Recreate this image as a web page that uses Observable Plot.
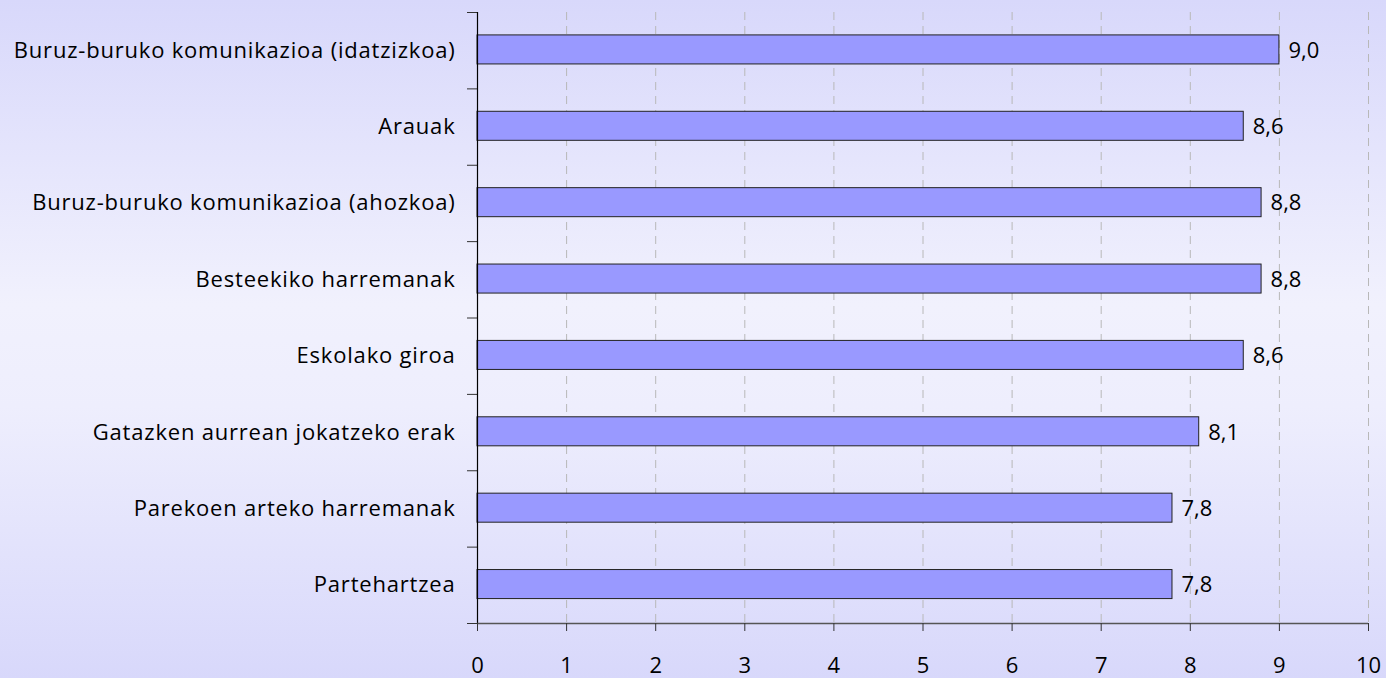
<!DOCTYPE html>
<html><head><meta charset="utf-8">
<script src="https://cdn.jsdelivr.net/npm/d3@7"></script>
<script src="https://cdn.jsdelivr.net/npm/@observablehq/plot@0.6"></script>
<style>
html,body{margin:0;padding:0;}
body{width:1386px;height:678px;overflow:hidden;background:linear-gradient(to bottom,#d8d8fb 0%,#f1f1fd 45%,#eeeefd 60%,#d8d8fb 100%);}
svg{background:transparent !important;}
g.cat-labels text{letter-spacing:0.8px;}
</style>
</head><body>
<div id="chart"></div>
<script>
const categories = [
  "Buruz-buruko komunikazioa (idatzizkoa)",
  "Arauak",
  "Buruz-buruko komunikazioa (ahozkoa)",
  "Besteekiko harremanak",
  "Eskolako giroa",
  "Gatazken aurrean jokatzeko erak",
  "Parekoen arteko harremanak",
  "Partehartzea"
];
const values = [9.0, 8.6, 8.8, 8.8, 8.6, 8.1, 7.8, 7.8];
const xTicks = [0,1,2,3,4,5,6,7,8,9,10];

const data = categories.map((c, i) => ({cat: c, i, v: values[i]}));
const boundaries = d3.range(categories.length + 1);
const fmt = v => v.toFixed(1).replace(".", ",");

const chart = Plot.plot({
  width: 1386,
  height: 678,
  marginLeft: 477,
  marginRight: 18,
  marginTop: 12,
  marginBottom: 55,
  style: {fontFamily: "'Open Sans', sans-serif", fontSize: "22px", color: "#000", background: "transparent"},
  x: {domain: [0, 10], label: null},
  y: {domain: [0, categories.length], reverse: true, label: null},
  marks: [
    Plot.ruleX(xTicks.filter(t => t > 0), {stroke: "#b8b8b8", strokeDasharray: "8,6", strokeWidth: 1}),
    Plot.rectX(data, {x1: 0, x2: "v", y1: d => d.i + 0.3, y2: d => d.i + 0.68, fill: "#9999ff", stroke: "#222", strokeWidth: 1}),
    Plot.text(data, {x: "v", y: d => d.i + 0.5, text: d => fmt(d.v), dx: 9, textAnchor: "start", fill: "#000", fontSize: 22}),
    Plot.text(data, {x: 0, y: d => d.i + 0.5, text: "cat", dx: -22, textAnchor: "end", fill: "#000", fontSize: 22, className: "cat-labels"}),
    Plot.axisY({ticks: boundaries, tickFormat: () => "", tickSize: 10, stroke: "#333", label: null}),
    Plot.ruleX([0], {stroke: "#000", strokeWidth: 1.2}),
    Plot.ruleY([categories.length], {stroke: "#555", strokeWidth: 1.5}),
    Plot.axisX({ticks: xTicks, tickSize: 8, tickPadding: 26, fontSize: 22, stroke: "#333", label: null, tickFormat: d => String(d)})
  ]
});
document.getElementById("chart").appendChild(chart);
</script>
</body></html>
